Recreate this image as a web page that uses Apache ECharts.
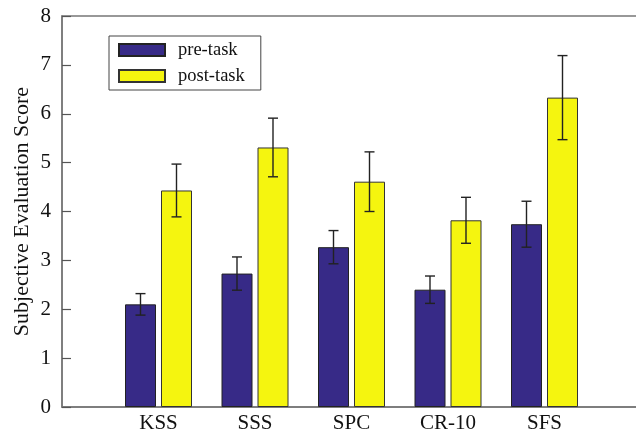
<!DOCTYPE html>
<html>
<head>
<meta charset="utf-8">
<script src="https://cdn.jsdelivr.net/npm/echarts@6/dist/echarts.min.js"></script>
<style>
  html, body { margin: 0; padding: 0; background: #fff; }
  #chart { width: 636px; height: 438px; }
</style>
</head>
<body>
<div id="chart"></div>
<script>
// Measures shown on the horizontal axis
const categories = ['KSS', 'SSS', 'SPC', 'CR-10', 'SFS'];

// Mean scores and their error half-widths
const preTask = [2.10, 2.73, 3.27, 2.40, 3.74];
const preTaskErr = [0.22, 0.34, 0.34, 0.28, 0.47];
const postTask = [4.43, 5.31, 4.61, 3.82, 6.33];
const postTaskErr = [0.54, 0.60, 0.61, 0.47, 0.86];

const yTicks = [0, 1, 2, 3, 4, 5, 6, 7, 8];

// Blank slots at both ends leave a full band of space around the groups
const axisCats = [''].concat(categories, ['']);
const pad = v => [null].concat(v, [null]);

const FONT = '"Liberation Serif", "DejaVu Serif", serif';
const BAR_W = 31;
const GAP = 5;

function errorSeries(values, errs, offset) {
  const data = values.map((v, i) => [i + 1, v - errs[i], v + errs[i]]);
  return {
    type: 'custom',
    z: 5,
    silent: true,
    data: data,
    renderItem: function (params, api) {
      const x = api.value(0);
      const lo = api.coord([x, api.value(1)]);
      const hi = api.coord([x, api.value(2)]);
      const cx = lo[0] + offset;
      const cap = 5;
      const style = { stroke: '#222', lineWidth: 1.4, fill: null };
      return {
        type: 'group',
        children: [
          { type: 'line', shape: { x1: cx, y1: lo[1], x2: cx, y2: hi[1] }, style: style },
          { type: 'line', shape: { x1: cx - cap, y1: hi[1], x2: cx + cap, y2: hi[1] }, style: style },
          { type: 'line', shape: { x1: cx - cap, y1: lo[1], x2: cx + cap, y2: lo[1] }, style: style }
        ]
      };
    }
  };
}

const chart = echarts.init(document.getElementById('chart'), null, { renderer: 'canvas' });
const half = (BAR_W + GAP) / 2;

chart.setOption({
  animation: false,
  textStyle: { fontFamily: FONT },
  grid: {
    left: 62, top: 16, width: 579, height: 391,
    outerBoundsMode: 'none',
    containLabel: false,
    show: true, borderColor: '#777', borderWidth: 1.5, backgroundColor: 'transparent'
  },
  legend: {
    left: 109, top: 36,
    orient: 'vertical',
    icon: 'rect',
    padding: [4.5, 16, 4.5, 9],
    itemGap: 7,
    itemWidth: 46, itemHeight: 12,
    borderColor: '#444', borderWidth: 1, borderRadius: 0,
    backgroundColor: '#fff',
    textStyle: { fontFamily: FONT, fontSize: 18.5, color: '#111', padding: [0, 0, 0, 8] },
    data: ['pre-task', 'post-task']
  },
  xAxis: {
    type: 'category',
    data: axisCats,
    boundaryGap: false,
    axisLine: { show: true, lineStyle: { color: '#777', width: 1.5 } },
    axisTick: { show: false },
    axisLabel: { fontFamily: FONT, fontSize: 21, color: '#111', margin: 6, interval: 0 },
    splitLine: { show: false }
  },
  yAxis: {
    type: 'value',
    min: yTicks[0], max: yTicks[yTicks.length - 1], interval: 1,
    name: 'Subjective Evaluation Score',
    nameLocation: 'middle',
    nameGap: 29,
    nameMoveOverlap: false,
    nameTextStyle: { fontFamily: FONT, fontSize: 22, color: '#111' },
    axisLine: { show: true, lineStyle: { color: '#777', width: 1.5 } },
    axisTick: { show: true, inside: true, length: 9, lineStyle: { color: '#555', width: 1.2 } },
    axisLabel: { fontFamily: FONT, fontSize: 21, color: '#111', margin: 11 },
    splitLine: { show: false }
  },
  series: [
    {
      name: 'pre-task',
      type: 'bar',
      data: pad(preTask),
      barWidth: BAR_W,
      barGap: (GAP / BAR_W * 100) + '%',
      itemStyle: { color: '#372a87', borderColor: '#222', borderWidth: 1 }
    },
    {
      name: 'post-task',
      type: 'bar',
      data: pad(postTask),
      barWidth: BAR_W,
      itemStyle: { color: '#f5f50f', borderColor: '#333', borderWidth: 1 }
    },
    errorSeries(preTask, preTaskErr, -half),
    errorSeries(postTask, postTaskErr, half)
  ]
});
</script>
</body>
</html>
